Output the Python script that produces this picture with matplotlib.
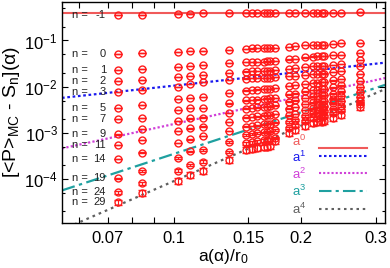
import matplotlib
matplotlib.use('Agg')
import matplotlib.pyplot as plt
import numpy as np
from matplotlib.ticker import FixedLocator, FixedFormatter, LogLocator, NullFormatter

plt.rcParams['font.family'] = ['Liberation Sans', 'DejaVu Sans']
plt.rcParams['mathtext.fontset'] = 'custom'
plt.rcParams['mathtext.rm'] = 'Liberation Sans'
plt.rcParams['mathtext.it'] = 'Liberation Sans:italic'
plt.rcParams['mathtext.bf'] = 'Liberation Sans:bold'

# lattice spacings a(alpha)/r0
a_vals = [0.0740, 0.0843, 0.1025, 0.1094, 0.1174, 0.1352, 0.1480, 0.1529, 0.1577,
          0.1630, 0.1660, 0.1684, 0.1738, 0.1869, 0.1929, 0.2043, 0.2137, 0.2183,
          0.2236, 0.2268, 0.2377, 0.2476, 0.2745]

n_labels = [-1, 0, 1, 2, 3, 5, 7, 9, 11, 14, 19, 24, 29]

d_m1 = [0.356, 0.356, 0.369, 0.380, 0.388, 0.388, 0.388, 0.388, 0.388, 0.388, 0.388, 0.388,
        0.388, 0.400, 0.400, 0.400, 0.400, 0.400, 0.400, 0.400, 0.400, 0.400, 0.420]
d_0 = [0.0518, 0.0528, 0.0572, 0.0593, 0.0602, 0.0623, 0.0665, 0.0671, 0.0678, 0.0681,
       0.0688, 0.0692, 0.0698, 0.0734, 0.0760, 0.0787, 0.0799, 0.0799, 0.0807, 0.0815,
       0.0857, 0.0870, 0.0896]
d_1 = [0.0226, 0.0242, 0.0271, 0.0285, 0.0295, 0.0321, 0.0339, 0.0342, 0.0346, 0.0349,
       0.0351, 0.0353, 0.0360, 0.0388, 0.0394, 0.0429, 0.0450, 0.0457, 0.0462, 0.0466,
       0.0478, 0.0485, 0.0528]
d_2 = [0.01328, 0.01396, 0.01622, 0.0168, 0.0179, 0.0201, 0.0213, 0.0217, 0.0219, 0.0221,
       0.0223, 0.0224, 0.0230, 0.0245, 0.0250, 0.0267, 0.0276, 0.0281, 0.0283, 0.0286,
       0.0295, 0.0310, 0.0378]
d_3 = [0.00779, 0.00861, 0.01000, 0.01127, 0.01245, 0.01396, 0.01497, 0.01512, 0.01527,
       0.01543, 0.01558, 0.01566, 0.01597, 0.01688, 0.01722, 0.0179, 0.01855, 0.01883,
       0.01902, 0.01921, 0.0208, 0.0219, 0.0281]
d_5 = [0.00351, 0.00396, 0.00542, 0.00561, 0.00607, 0.00730, 0.00827, 0.00848, 0.00865,
       0.00883, 0.00892, 0.00901, 0.00928, 0.01035, 0.01072, 0.01144, 0.01202, 0.01227,
       0.01252, 0.01264, 0.01362, 0.01468, 0.01883]
d_7 = [0.00200, 0.00213, 0.00313, 0.00341, 0.00351, 0.00433, 0.00503, 0.00515, 0.00528,
       0.00542, 0.00550, 0.00558, 0.00575, 0.00678, 0.00712, 0.00787, 0.00836, 0.00857,
       0.00879, 0.00892, 0.00961, 0.01062, 0.01328]
d_9 = [9.33e-4, 1.215e-3, 1.81e-3, 2.07e-3, 2.13e-3, 2.70e-3, 3.37e-3, 3.46e-3, 3.55e-3,
       3.64e-3, 3.71e-3, 3.76e-3, 3.92e-3, 4.78e-3, 5.08e-3, 5.69e-3, 6.14e-3, 6.29e-3,
       6.45e-3, 6.55e-3, 7.12e-3, 7.87e-3, 9.85e-3]
d_11 = [5.47e-4, 7.02e-4, 1.10e-3, 1.258e-3, 1.362e-3, 1.72e-3, 2.13e-3, 2.21e-3, 2.29e-3,
        2.36e-3, 2.40e-3, 2.44e-3, 2.56e-3, 3.37e-3, 3.64e-3, 4.22e-3, 4.55e-3, 4.71e-3,
        4.85e-3, 4.95e-3, 5.55e-3, 6.29e-3, 7.68e-3]
d_14 = [2.72e-4, 3.73e-4, 6.04e-4, 7.27e-4, 8.57e-4, 1.10e-3, 1.362e-3, 1.41e-3, 1.46e-3,
        1.52e-3, 1.56e-3, 1.59e-3, 1.68e-3, 2.38e-3, 2.56e-3, 3.13e-3, 3.41e-3, 3.55e-3,
        3.67e-3, 3.76e-3, 4.33e-3, 4.90e-3, 5.98e-3]
d_19 = [1.041e-4, 1.52e-4, 2.86e-4, 3.96e-4, 4.26e-4, 6.35e-4, 9.01e-4, 9.47e-4, 9.95e-4,
        1.030e-3, 1.061e-3, 1.083e-3, 1.155e-3, 1.72e-3, 1.90e-3, 2.32e-3, 2.63e-3, 2.74e-3,
        2.86e-3, 2.95e-3, 3.37e-3, 3.82e-3, 4.90e-3]
d_24 = [5.18e-5, 8.11e-5, 1.52e-4, 2.02e-4, 2.38e-4, 3.86e-4, 5.95e-4, 6.26e-4, 6.58e-4,
        6.85e-4, 7.09e-4, 7.27e-4, 7.76e-4, 1.276e-3, 1.446e-3, 1.81e-3, 2.05e-3, 2.15e-3,
        2.26e-3, 2.32e-3, 2.70e-3, 3.13e-3, 4.22e-3]
d_29 = [3.15e-5, 5.08e-5, 9.23e-5, 1.227e-4, 1.52e-4, 2.59e-4, 4.26e-4, 4.48e-4, 4.71e-4,
        4.88e-4, 5.03e-4, 5.15e-4, 6.68e-4, 9.95e-4, 1.155e-3, 1.41e-3, 1.64e-3, 1.72e-3,
        1.76e-3, 1.81e-3, 2.10e-3, 2.44e-3, 3.64e-3]

rows = [d_m1, d_0, d_1, d_2, d_3, d_5, d_7, d_9, d_11, d_14, d_19, d_24, d_29]
# relative statistical error of each series
rel_err = [0.002, 0.002, 0.003, 0.004, 0.005, 0.007, 0.01, 0.012, 0.015, 0.02, 0.04, 0.07, 0.14]

# reference power laws C * a^k
pow_k = [0, 1, 2, 3, 4]
pow_c = [0.40, 0.105, 0.155, 0.35, 0.90]
pow_labels = ['a$^0$', 'a$^1$', 'a$^2$', 'a$^3$', 'a$^4$']
pow_colors = ['#f05a5a', '#1a1aee', '#d040d8', '#1fa0a0', '#606060']
pow_styles = ['-', (0, (1.2, 1.2)), (0, (1, 1)), (0, (6, 2, 1.5, 2)), (0, (1.2, 1.8))]

xlo, xhi = 0.0546, 0.315
ylo, yhi = 1.14e-5, 0.68

fig = plt.figure(figsize=(3.9, 2.68), dpi=100)
ax = fig.add_axes([62/390, 1-222.7/268, (385-62)/390, (222.7-2)/268])
ax.set_xscale('log')
ax.set_yscale('log')
ax.set_xlim(xlo, xhi)
ax.set_ylim(ylo, yhi)

xg = np.geomspace(xlo, xhi, 200)
for k, c, col, ls in zip(pow_k, pow_c, pow_colors, pow_styles):
    ax.plot(xg, c * xg**k, color=col, ls=ls, lw=1.5 if k == 0 else 1.6, zorder=1)

for vals, re in zip(rows, rel_err):
    v = np.array(vals)
    ax.errorbar(a_vals, v, yerr=v * re, fmt='o', ms=5.0, mfc='none', mec='#ff1a1a',
                mew=1.0, ecolor='#ff1a1a', elinewidth=0.8, capsize=2.6, capthick=1.0,
                zorder=3)

# n labels
for n, vals in zip(n_labels, rows):
    ax.text(0.0577, vals[0], 'n =', fontsize=8, ha='left', va='center', color='#222222')
    ax.text(0.0693, vals[0], str(n), fontsize=8, ha='right', va='center', color='#222222')

# legend
leg_y = [147.7, 155.5, 173.3, 191.2, 209.3]
leg_ty = [141, 157, 174, 191, 209]
for lbl, col, ls, ly, ty in zip(pow_labels, pow_colors, pow_styles, leg_y, leg_ty):
    fy = 1 - (ly - 2) / (222.7 - 2)
    ty2 = 1 - (ty - 2) / (222.7 - 2)
    ax.plot([(319-62)/323, (367-62)/323], [fy, fy], transform=ax.transAxes,
            color=col, ls=ls, lw=1.5, zorder=4, clip_on=False)
    ax.text((306-62)/323, ty2, lbl, transform=ax.transAxes, color=col,
            fontsize=9.5, ha='right', va='center')

ax.xaxis.set_major_locator(FixedLocator([0.06, 0.07, 0.08, 0.09, 0.1, 0.15, 0.2, 0.3]))
ax.xaxis.set_major_formatter(FixedFormatter(['', '0.07', '', '', '0.1', '0.15', '0.2', '0.3']))
ax.xaxis.set_minor_locator(FixedLocator([]))
ax.yaxis.set_major_locator(LogLocator(base=10, numticks=10))
ax.yaxis.set_minor_locator(LogLocator(base=10, subs=(2.0, 5.0), numticks=10))
ax.yaxis.set_minor_formatter(NullFormatter())

ax.tick_params(which='both', direction='in', top=True, right=True, labelsize=12)
ax.tick_params(which='major', length=4.5, width=0.8)
ax.tick_params(which='minor', length=2.5, width=0.8)
ax.tick_params(axis='x', pad=6)
ax.tick_params(axis='y', pad=3)
for s in ax.spines.values():
    s.set_linewidth(1.0)

ax.set_xlabel('a(α)/r$_0$', fontsize=12.5, labelpad=1)
ax.set_ylabel('[<P>$_{\\mathrm{MC}}$ - S$_{\\mathrm{n}}$](α)', fontsize=14, labelpad=0)
ax.yaxis.set_label_coords(-0.125, 0.5)

fig.savefig('out.png', dpi=100)
